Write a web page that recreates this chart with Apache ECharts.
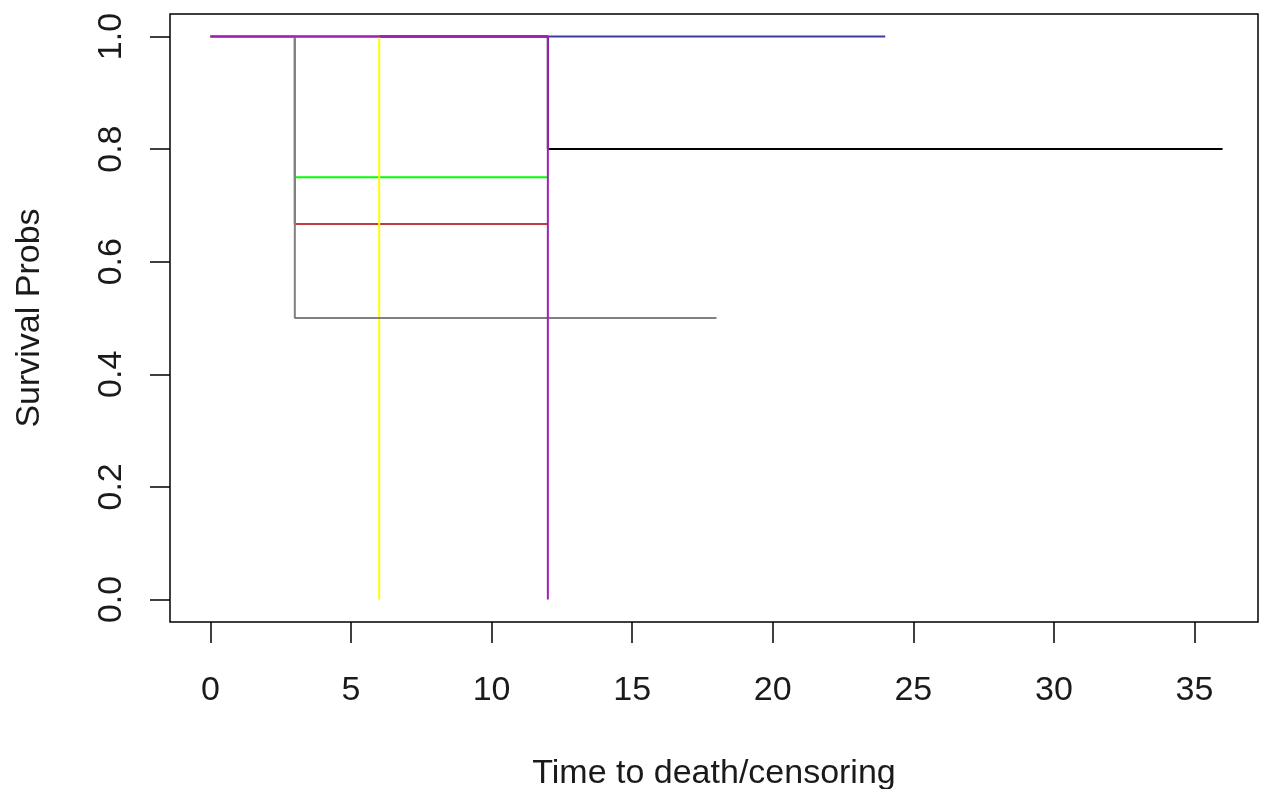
<!DOCTYPE html>
<html>
<head>
<meta charset="utf-8">
<script src="https://cdn.jsdelivr.net/npm/echarts@6/dist/echarts.min.js"></script>
<style>
html,body{margin:0;padding:0;background:#fff;}
#c{width:1261px;height:789px;}
</style>
</head>
<body>
<div id="c"></div>
<script>
// Tick labels
var xTicks = [0, 5, 10, 15, 20, 25, 30, 35];
var yTicks = [0, 0.2, 0.4, 0.6, 0.8, 1.0];

// Kaplan-Meier step curves: [time, survival]
var curveBlack   = [[0, 1], [12, 0.8], [36, 0.8]];
var curveRed     = [[0, 1], [3, 0.667], [12, 0.667]];
var curveGreen   = [[0, 1], [3, 0.75], [12, 0.75]];
var curveBlue    = [[0, 1], [24, 1]];
var curveYellow  = [[0, 1], [6, 0]];
var curveGray    = [[0, 1], [3, 0.5], [18, 0.5]];
var curveMagenta = [[0, 1], [12, 0]];

var curves = [
  {data: curveBlack, color: '#000000'},
  {data: curveRed, color: '#C03C3C'},
  {data: curveGreen, color: '#00FF00'},
  {data: curveBlue, color: '#3C3CA0'},
  {data: curveYellow, color: '#FFFF00'},
  {data: curveGray, color: '#808080'},
  {data: curveMagenta, color: '#A020B4'}
];

var font = '"Liberation Sans", Arial, sans-serif';
var txt = '#1a1a1a';

var chart = echarts.init(document.getElementById('c'));
chart.setOption({
  animation: false,
  backgroundColor: '#fff',
  grid: {left: 170, top: 14, width: 1088, height: 608, show: true, borderColor: '#000', borderWidth: 1.5,
    backgroundColor: 'transparent', containLabel: false, outerBoundsMode: 'none'},
  xAxis: {
    type: 'value', min: -1.44, max: 37.26,
    name: 'Time to death/censoring', nameLocation: 'middle', nameGap: 135,
    nameTextStyle: {fontFamily: font, fontSize: 34, color: txt},
    axisLine: {show: false, onZero: false},
    splitLine: {show: false},
    axisTick: {show: true, inside: false, length: 21, customValues: xTicks, lineStyle: {color: '#000', width: 1.5}},
    axisLabel: {customValues: xTicks, margin: 52, fontFamily: font, fontSize: 34, color: txt}
  },
  yAxis: {
    type: 'value', min: -0.04, max: 1.04,
    name: 'Survival Probs', nameLocation: 'middle', nameGap: 123, nameRotate: 90,
    nameTextStyle: {fontFamily: font, fontSize: 34, color: txt},
    axisLine: {show: false, onZero: false},
    splitLine: {show: false},
    axisTick: {show: true, inside: false, length: 20, customValues: yTicks, lineStyle: {color: '#000', width: 1.5}},
    axisLabel: {customValues: yTicks, rotate: 90, margin: 41, fontFamily: font, fontSize: 34, color: txt,
      formatter: function (v) { return v.toFixed(1); }}
  },
  series: curves.map(function (c, i) {
    return {
      type: 'line', step: 'end', data: c.data, symbol: 'none', z: 2 + i,
      lineStyle: {color: c.color, width: 2}
    };
  })
});
</script>
</body>
</html>
